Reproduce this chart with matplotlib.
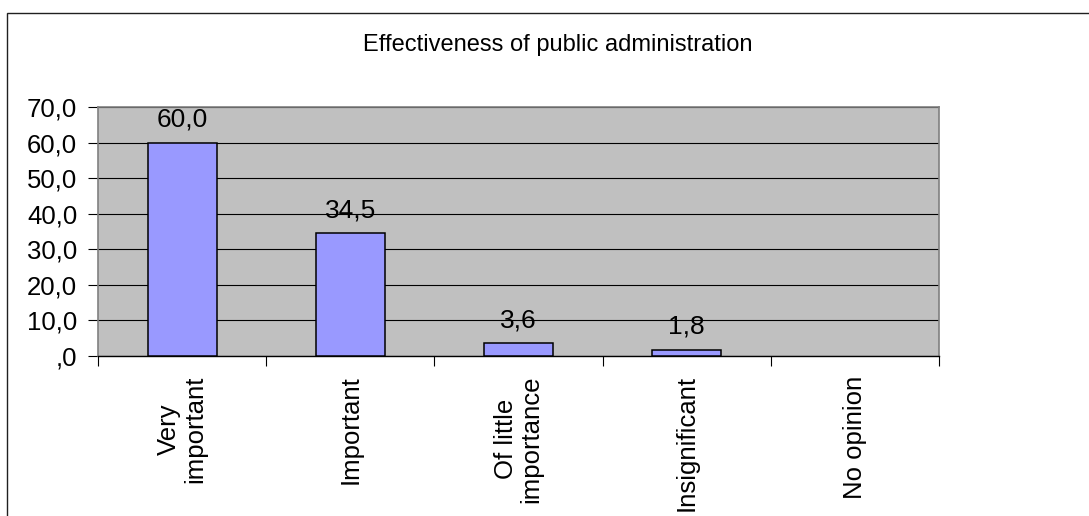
import matplotlib
matplotlib.use("Agg")
import matplotlib.pyplot as plt
from matplotlib.patches import Rectangle

categories = ["Very\nimportant", "Important", "Of little\nimportance", "Insignificant", "No opinion"]
values = [60.0, 34.5, 3.6, 1.8, 0.0]
value_labels = ["60,0", "34,5", "3,6", "1,8", None]
y_ticks = [0, 10, 20, 30, 40, 50, 60, 70]
y_tick_labels = [",0", "10,0", "20,0", "30,0", "40,0", "50,0", "60,0", "70,0"]
title = "Effectiveness of public administration"

plt.rcParams["font.family"] = ["Liberation Sans", "DejaVu Sans"]

W, H = 1089, 516
fig = plt.figure(figsize=(W / 100, H / 100), dpi=100)
fig.patch.set_facecolor("white")

# chart frame (left and top edges visible)
fig.add_artist(Rectangle((7 / W, -0.2), 1.5, 1.2 - 12.7 / H,
                         transform=fig.transFigure, fill=False,
                         edgecolor="#202020", linewidth=1.0))

left, right, top, bottom = 98, 939, 107, 356
ax = fig.add_axes([left / W, 1 - bottom / H, (right - left) / W, (bottom - top) / H])
ax.set_facecolor("#C0C0C0")

x = list(range(len(categories)))
heights = [v if v > 0 else float("nan") for v in values]
ax.bar(x, heights, width=0.41, color="#9999FF", edgecolor="black", linewidth=1.1, zorder=3)

for xi, v, lab in zip(x, values, value_labels):
    if lab is None:
        continue
    ax.annotate(lab, (xi, v), xytext=(0, 11.5), textcoords="offset points",
                ha="center", va="baseline", fontsize=19, color="black", zorder=4)

ax.set_xlim(-0.5, len(categories) - 0.5)
ax.set_ylim(0, 70)
ax.set_yticks(y_ticks)
ax.set_yticklabels(y_tick_labels, fontsize=18.5)
ax.yaxis.grid(True, color="black", linewidth=0.8, zorder=1)
ax.set_axisbelow(True)

ax.set_xticks(x)
ax.set_xticklabels(categories, rotation=90, fontsize=18.5, va="top", ha="center",
                   multialignment="center", linespacing=1.1)
ax.set_xticks([i - 0.5 for i in range(len(categories) + 1)], minor=True)
ax.tick_params(axis="x", which="major", length=0, pad=14)
ax.tick_params(axis="x", which="minor", length=7, width=0.8, color="black")
ax.tick_params(axis="y", length=7, width=0.8, color="black", pad=8)

for s in ["left", "top", "right"]:
    ax.spines[s].set_color("#808080")
    ax.spines[s].set_linewidth(1.2)
ax.spines["bottom"].set_color("black")
ax.spines["bottom"].set_linewidth(1.0)

fig.text(557.5 / W, 1 - 45 / H, title, ha="center", va="center", fontsize=17)

fig.savefig("out.png", dpi=100)
